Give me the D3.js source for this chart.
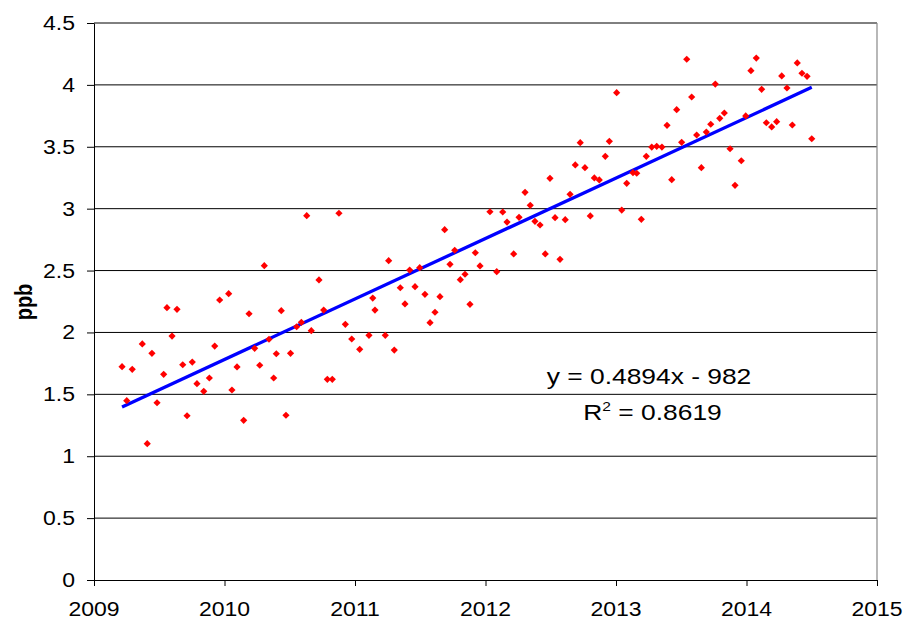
<!DOCTYPE html>
<html>
<head>
<meta charset="utf-8">
<script src="https://cdn.jsdelivr.net/npm/d3@7"></script>
<style>
  html, body { margin: 0; padding: 0; background: #fff; }
  svg { display: block; }
  text { font-family: "Liberation Sans", Arial, sans-serif; fill: #000; }
</style>
</head>
<body>
<svg id="chart" width="905" height="624"></svg>
<script>
// Sample dates (decimal years) and concentrations (ppb)
const years = [
  2009.215, 2009.251, 2009.293, 2009.370, 2009.408, 2009.444, 2009.483, 2009.534,
  2009.559, 2009.598, 2009.636, 2009.680, 2009.713, 2009.753, 2009.789, 2009.841,
  2009.884, 2009.925, 2009.963, 2010.032, 2010.057, 2010.096, 2010.147, 2010.188,
  2010.231, 2010.270, 2010.305, 2010.341, 2010.377, 2010.397, 2010.435, 2010.471,
  2010.506, 2010.553, 2010.589, 2010.630, 2010.665, 2010.724, 2010.760, 2010.788,
  2010.826, 2010.877, 2010.926, 2010.975, 2011.036, 2011.107, 2011.136, 2011.153,
  2011.232, 2011.258, 2011.301, 2011.347, 2011.383, 2011.419, 2011.460, 2011.496,
  2011.536, 2011.575, 2011.613, 2011.651, 2011.687, 2011.728, 2011.764, 2011.807,
  2011.843, 2011.881, 2011.922, 2011.958, 2012.034, 2012.086, 2012.132, 2012.165,
  2012.216, 2012.257, 2012.303, 2012.343, 2012.379, 2012.418, 2012.458, 2012.494,
  2012.533, 2012.571, 2012.611, 2012.648, 2012.688, 2012.726, 2012.762, 2012.803,
  2012.834, 2012.872, 2012.918, 2012.949, 2013.005, 2013.044, 2013.082, 2013.130,
  2013.159, 2013.194, 2013.232, 2013.274, 2013.312, 2013.352, 2013.391, 2013.427,
  2013.465, 2013.503, 2013.542, 2013.580, 2013.618, 2013.654, 2013.692, 2013.726,
  2013.761, 2013.795, 2013.830, 2013.874, 2013.912, 2013.960, 2013.994, 2014.034,
  2014.075, 2014.116, 2014.152, 2014.193, 2014.231, 2014.270, 2014.310, 2014.351,
  2014.389, 2014.425, 2014.464, 2014.500
];
const ppb = [
  1.723, 1.449, 1.702, 1.907, 1.101, 1.831, 1.432, 1.662,
  2.200, 1.971, 2.187, 1.739, 1.327, 1.761, 1.586, 1.524,
  1.632, 1.890, 2.262, 2.313, 1.535, 1.721, 1.290, 2.151,
  1.872, 1.735, 2.539, 1.945, 1.632, 1.828, 2.176, 1.331,
  1.831, 2.046, 2.082, 2.943, 2.014, 2.424, 2.181, 1.621,
  1.621, 2.963, 2.066, 1.947, 1.864, 1.977, 2.278, 2.181,
  1.977, 2.580, 1.858, 2.361, 2.230, 2.504, 2.370, 2.523,
  2.308, 2.079, 2.163, 2.289, 2.830, 2.550, 2.664, 2.426,
  2.470, 2.227, 2.644, 2.537, 2.975, 2.491, 2.973, 2.892,
  2.634, 2.930, 3.132, 3.027, 2.898, 2.868, 2.634, 3.245,
  2.927, 2.591, 2.911, 3.116, 3.353, 3.533, 3.331, 2.941,
  3.248, 3.232, 3.423, 3.544, 3.937, 2.989, 3.205, 3.291,
  3.286, 2.914, 3.423, 3.498, 3.504, 3.498, 3.673, 3.234,
  3.800, 3.536, 4.207, 3.902, 3.595, 3.331, 3.619, 3.682,
  4.007, 3.730, 3.773, 3.484, 3.189, 3.387, 3.749, 4.115,
  4.217, 3.964, 3.694, 3.660, 3.703, 4.072, 3.975, 3.676,
  4.177, 4.094, 4.069, 3.565
];

const xTicks = [2009, 2010, 2011, 2012, 2013, 2014, 2015];
const yTicks = [0, 0.5, 1, 1.5, 2, 2.5, 3, 3.5, 4, 4.5];
const yTickLabels = ["0", "0.5", "1", "1.5", "2", "2.5", "3", "3.5", "4", "4.5"];
const yTitle = "ppb";
const equationLine = "y = 0.4894x - 982";
const rSquaredValue = "0.8619";

// Text in this chart is drawn slightly wide
const STRETCH = 1.18;

const svg = d3.select("#chart");
const plot = { left: 94, right: 877, top: 23, bottom: 580 };

const x = d3.scaleLinear().domain([2009, 2015]).range([plot.left, plot.right]);
const y = d3.scaleLinear().domain([0, 4.5]).range([plot.bottom, plot.top]);

// Horizontal gridlines
svg.append("g")
  .selectAll("line")
  .data(yTicks.filter(v => v > 0))
  .join("line")
  .attr("x1", plot.left).attr("x2", plot.right)
  .attr("y1", d => y(d)).attr("y2", d => y(d))
  .attr("stroke", "#000").attr("stroke-width", 1);

// Right edge of the plot area
svg.append("line")
  .attr("x1", plot.right).attr("x2", plot.right)
  .attr("y1", plot.top).attr("y2", plot.bottom)
  .attr("stroke", "#888").attr("stroke-width", 1.2);

// Y axis
const yAxis = svg.append("g")
  .attr("transform", `translate(${plot.left},0)`)
  .call(d3.axisLeft(y).tickValues(yTicks).tickSize(7).tickSizeOuter(0).tickFormat(""));
yAxis.select(".domain").attr("stroke", "#000");
yAxis.selectAll(".tick line").attr("stroke", "#000");

// X axis
const xAxis = svg.append("g")
  .attr("transform", `translate(0,${plot.bottom})`)
  .call(d3.axisBottom(x).tickValues(xTicks).tickSize(6).tickSizeOuter(0).tickFormat(""));
xAxis.select(".domain").attr("stroke", "#000");
xAxis.selectAll(".tick line").attr("stroke", "#000");

// Tick labels (horizontally stretched)
svg.append("g")
  .selectAll("text")
  .data(yTicks)
  .join("text")
  .attr("transform", d => `translate(75,${y(d) + 7}) scale(${STRETCH},1)`)
  .attr("text-anchor", "end")
  .style("font-size", "19.5px")
  .text((d, i) => yTickLabels[i]);

svg.append("g")
  .selectAll("text")
  .data(xTicks)
  .join("text")
  .attr("transform", d => `translate(${x(d)},616) scale(${STRETCH},1)`)
  .attr("text-anchor", "middle")
  .style("font-size", "19.5px")
  .text(d => d);

// Axis title
svg.append("text")
  .attr("transform", `translate(32,302) scale(${STRETCH},1) rotate(-90)`)
  .attr("text-anchor", "middle")
  .style("font-size", "20px")
  .style("font-weight", "bold")
  .text(yTitle);

// Least-squares trend line over the sampled span
const n = years.length;
const mx = d3.mean(years), my = d3.mean(ppb);
let sxy = 0, sxx = 0;
for (let i = 0; i < n; i++) {
  sxy += (years[i] - mx) * (ppb[i] - my);
  sxx += (years[i] - mx) * (years[i] - mx);
}
const slope = sxy / sxx;
const intercept = my - slope * mx;
const [x0, x1] = d3.extent(years);

svg.append("line")
  .attr("x1", x(x0)).attr("y1", y(slope * x0 + intercept))
  .attr("x2", x(x1)).attr("y2", y(slope * x1 + intercept))
  .attr("stroke", "#0000ff")
  .attr("stroke-width", 3.3)
  .attr("stroke-linecap", "butt");

// Data markers (diamonds)
const diamond = d3.symbol().type(d3.symbolSquare).size(26);
svg.append("g")
  .selectAll("path")
  .data(years.map((yr, i) => [yr, ppb[i]]))
  .join("path")
  .attr("d", diamond)
  .attr("transform", d => `translate(${x(d[0])},${y(d[1])}) rotate(45)`)
  .attr("fill", "#ff0000");

// Regression annotation
svg.append("text")
  .attr("transform", `translate(649,384) scale(1.2,1)`)
  .attr("text-anchor", "middle")
  .style("font-size", "22px")
  .text(equationLine);

const r2 = svg.append("text")
  .attr("transform", `translate(652.5,420) scale(1.2,1)`)
  .attr("text-anchor", "middle")
  .style("font-size", "22px");
r2.append("tspan").text("R");
r2.append("tspan").attr("dy", -9).style("font-size", "13px").text("2");
r2.append("tspan").attr("dy", 9).text(" = " + rSquaredValue);
</script>
</body>
</html>
